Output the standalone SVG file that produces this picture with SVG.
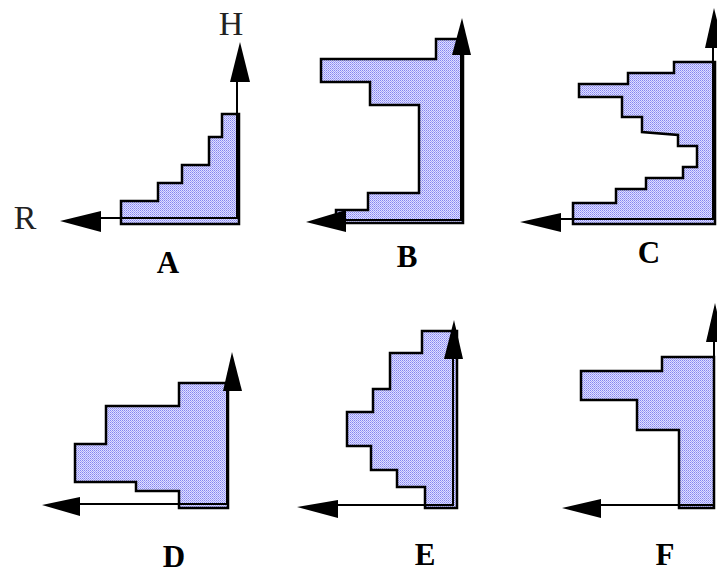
<svg xmlns="http://www.w3.org/2000/svg" width="717" height="573" viewBox="0 0 717 573">
<defs>
<pattern id="dots" width="2" height="2" patternUnits="userSpaceOnUse">
<rect width="2" height="2" fill="#e0e0ff"/>
<rect width="1" height="1" fill="#8585f0"/>
<rect x="1" y="1" width="1" height="1" fill="#a4a4f8"/>
</pattern>
</defs>
<style>
.shape{fill:url(#dots);stroke:#000;stroke-width:2.5;stroke-linejoin:miter}
.axis{fill:none;stroke:#000;stroke-width:2}
.head{fill:#000;stroke:none}
.lab{font-family:"Liberation Serif","Times New Roman",serif;font-weight:bold;font-size:31px;fill:#000;text-anchor:middle}
.axl{font-family:"Liberation Serif","Times New Roman",serif;font-size:34px;fill:#222;text-anchor:middle}
</style>
<rect width="717" height="573" fill="#fff"/>
<g id="panelA">
<polygon class="shape" points="121,224 121,201 158,201 158,183 182,183 182,165 209,165 209,137 222,137 222,114 239,114 239,224"/>
<g class="axes">
<polyline class="axis" points="237,80 237,218 100,218"/>
<polygon class="head" points="240,42 230,82 250,82"/>
<polygon class="head" points="60,221 101,211 101,232"/>
</g>
<text class="axl" x="231" y="35">H</text>
<text class="axl" x="25" y="229">R</text>
<text class="lab" x="168" y="273">A</text>
</g>
<g id="panelB">
<polygon class="shape" points="321,59 436,59 436,39 463,39 463,223 336,223 336,210 368,210 368,193 419,193 419,105 370,105 370,82 321,82"/>
<g class="axes">
<polyline class="axis" points="461,52 461,220 340,220"/>
<polygon class="head" points="462,18 452,55 471,55"/>
<polygon class="head" points="306,222 346,210 346,232"/>
</g>
<text class="lab" x="407" y="267">B</text>
</g>
<g id="panelC">
<polygon class="shape" points="674,62 715,62 715,224 573,224 573,203 616,203 616,189 646,189 646,178 683,178 683,167 697,167 697,146 678,146 678,135 642,132 642,117 622,117 622,97 579,97 579,84 628,84 628,73 674,73"/>
<g class="axes">
<polyline class="axis" points="713,45 713,219 555,219"/>
<polygon class="head" points="714,8 705,48 724,48"/>
<polygon class="head" points="520,222 561,213 561,232"/>
</g>
<text class="lab" x="649" y="263">C</text>
</g>
<g id="panelD">
<polygon class="shape" points="179,383 228,383 228,508 179,508 179,491 136,491 136,482 75,482 75,444 106,444 106,406 179,406"/>
<g class="axes">
<polyline class="axis" points="227,388 227,504 78,504"/>
<polygon class="head" points="232,352 223,391 242,391"/>
<polygon class="head" points="42,505 80,497 80,516"/>
</g>
<text class="lab" x="174" y="567">D</text>
</g>
<g id="panelE">
<polygon class="shape" points="422,331 457,331 457,508 425,508 425,487 397,487 397,470 371,470 371,446 347,446 347,412 373,412 373,389 390,389 390,353 422,353"/>
<g class="axes">
<polyline class="axis" points="453,356 453,505 335,505"/>
<polygon class="head" points="454,320 444,359 463,359"/>
<polygon class="head" points="297,507 338,500 338,518"/>
</g>
<text class="lab" x="425" y="565">E</text>
</g>
<g id="panelF">
<polygon class="shape" points="662,357 714,357 714,508 679,508 679,430 637,430 637,400 581,400 581,371 662,371"/>
<g class="axes">
<polyline class="axis" points="714,338 714,505 598,505"/>
<polygon class="head" points="715,303 706,342 724,342"/>
<polygon class="head" points="562,508 601,499 601,518"/>
</g>
<text class="lab" x="665" y="565">F</text>
</g>
</svg>
